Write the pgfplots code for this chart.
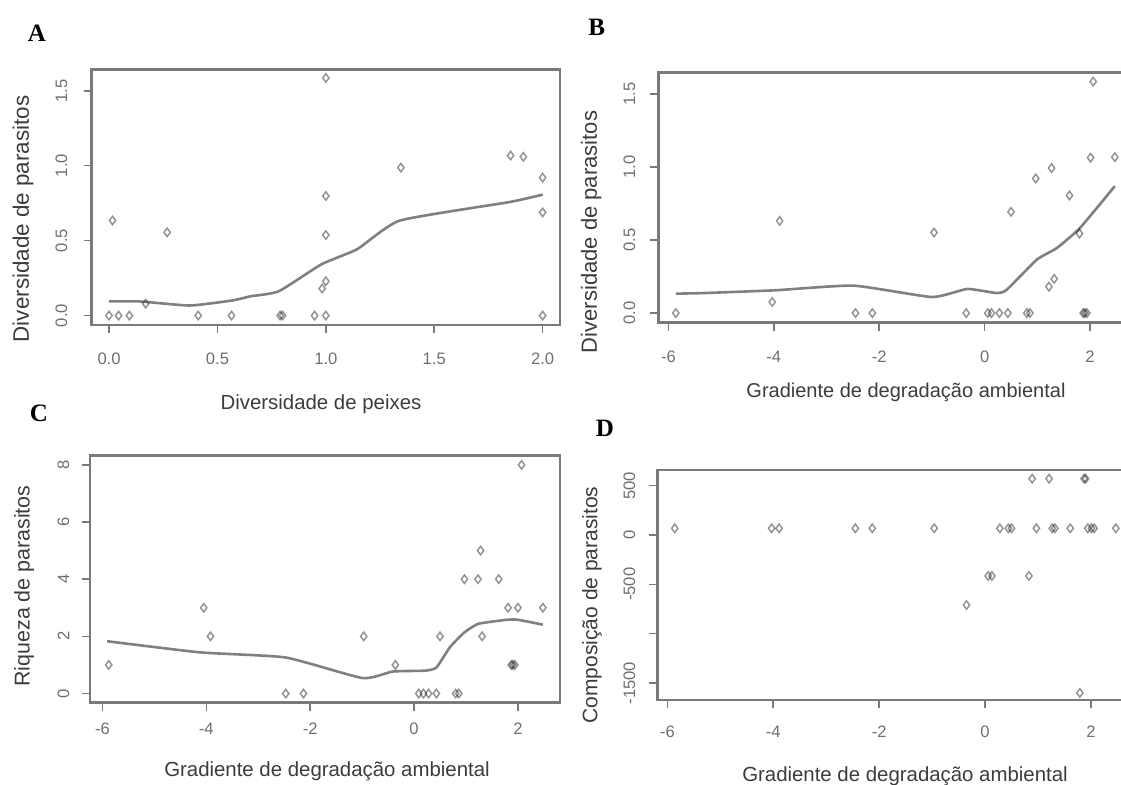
\documentclass[border=0pt]{standalone}
\usepackage{pgfplots}
\pgfplotsset{compat=1.18}
\usepackage{fontspec}
\setmainfont{Liberation Sans}
\newfontfamily\serifbold{Liberation Serif}
\definecolor{boxc}{HTML}{7A7A7A}
\definecolor{tickc}{HTML}{6F6F6F}
\definecolor{labc}{HTML}{3C3C3C}
\definecolor{linec}{HTML}{808080}
\pgfplotsset{
  rstyle/.style={
    scale only axis,
    anchor=south west,
    axis line style={boxc, line width=1.3pt},
    every tick/.style={boxc, line width=0.8pt},
    tick align=outside,
    major tick length=4pt,
    xtick pos=bottom, ytick pos=left,
    ticklabel style={font=\fontsize{8.3}{9}\selectfont, text=tickc, inner sep=0pt},
    yticklabel style={rotate=90, anchor=south},
    xticklabel style={anchor=north},
  },
  pts/.style={only marks, mark=diamond, mark size=2.1pt, mark options={draw=black, draw opacity=0.42, line width=0.75pt, fill=none}},
  lo/.style={no marks, color=linec, line width=1.3pt, smooth, tension=0.3},
}
\begin{document}
\begin{tikzpicture}[x=1pt,y=1pt]
\useasboundingbox (0pt,0pt) rectangle (560.5pt,392.5pt);
\begin{scope}
\clip (0pt,0pt) rectangle (560.5pt,392.5pt);
% ---------- A ----------
\begin{axis}[rstyle, at={(45.85pt,230pt)}, width=234.15pt, height=127.85pt,
  xmin=-0.08, xmax=2.08, ymin=-0.063, ymax=1.643,
  xtick={0,0.5,1,1.5,2}, xticklabels={0.0,0.5,1.0,1.5,2.0},
  ytick={0,0.5,1,1.5}, yticklabels={0.0,0.5,1.0,1.5},
  xticklabel shift=9.6pt, yticklabel shift=8pt]
\addplot[pts] table {
0 0
0.044 0
0.094 0
0.016 0.634
0.169 0.079
0.268 0.555
0.411 0
0.565 0
0.789 0
0.800 0
0.948 0
1.0 0
1.0 1.585
1.0 0.798
1.0 0.537
1.0 0.229
0.983 0.180
1.346 0.987
1.852 1.068
1.911 1.059
2.0 0.920
2.0 0.688
2.0 0
};
\addplot[lo] table {
0 0.094
0.143 0.094
0.373 0.067
0.57 0.101
0.652 0.128
0.783 0.162
0.98 0.342
1.145 0.443
1.342 0.634
1.85 0.758
2.0 0.807
};
\end{axis}
% ---------- B ----------
\begin{axis}[rstyle, at={(329.2pt,231.15pt)}, width=236.9pt, height=125pt,
  xmin=-6.19, xmax=2.80, ymin=-0.066, ymax=1.648,
  xtick={-6,-4,-2,0,2}, xticklabels={-6,-4,-2,0,2},
  ytick={0,0.5,1,1.5}, yticklabels={0.0,0.5,1.0,1.5},
  xticklabel shift=10.1pt, yticklabel shift=7.4pt]
\addplot[pts] table {
-5.86 0
-4.03 0.076
-3.89 0.632
-2.45 0
-2.13 0
-0.96 0.552
-0.35 0
0.06 0
0.13 0
0.28 0
0.44 0
0.80 0
0.86 0
1.87 0
1.90 0
1.94 0
2.06 1.587
2.01 1.065
2.47 1.069
1.27 0.994
0.97 0.923
1.61 0.806
0.50 0.694
1.80 0.545
1.32 0.234
1.22 0.181
};
\addplot[lo] table {
-5.86 0.133
-5.34 0.137
-3.98 0.156
-2.49 0.188
-1.00 0.110
-0.33 0.165
0.23 0.137
0.42 0.160
0.99 0.366
1.37 0.446
1.81 0.584
2.47 0.870
};
\end{axis}
% ---------- C ----------
\begin{axis}[rstyle, at={(45pt,41.15pt)}, width=235pt, height=123.5pt,
  xmin=-6.24, xmax=2.81, ymin=-0.32, ymax=8.32,
  xtick={-6,-4,-2,0,2}, xticklabels={-6,-4,-2,0,2},
  ytick={0,2,4,6,8}, yticklabels={0,2,4,6,8},
  xticklabel shift=5.75pt, yticklabel shift=6.1pt]
\addplot[pts] table {
-5.88 1
-4.05 3
-3.92 2
-2.47 0
-2.13 0
-0.97 2
-0.36 1
0.09 0
0.18 0
0.28 0
0.43 0
0.50 2
0.80 0
0.86 0
0.97 4
1.23 4
1.28 5
1.31 2
1.63 4
1.81 3
2.00 3
2.07 8
2.48 3
1.87 1
1.90 1
1.94 1
};
\addplot[lo] table {
-5.91 1.83
-4.12 1.44
-2.47 1.26
-0.99 0.54
-0.41 0.77
0.21 0.80
0.43 0.91
0.69 1.62
0.97 2.14
1.24 2.44
1.79 2.58
2.00 2.58
2.48 2.41
};
\end{axis}
% ---------- D ----------
\begin{axis}[rstyle, at={(328.65pt,42.5pt)}, width=238pt, height=115pt,
  xmin=-6.19, xmax=2.80, ymin=-1672, ymax=659,
  xtick={-6,-4,-2,0,2}, xticklabels={-6,-4,-2,0,2},
  ytick={500,0,-500,-1000,-1500}, yticklabels={500,0,-500,,-1500},
  xticklabel shift=8.95pt, yticklabel shift=6.85pt]
\addplot[pts] table {
-5.86 68
-4.03 68
-3.89 68
-2.45 68
-2.13 68
-0.96 68
-0.35 -710
0.06 -415
0.13 -415
0.28 68
0.44 68
0.50 68
0.83 -415
0.89 571
0.97 68
1.21 571
1.27 68
1.32 68
1.61 68
1.79 -1600
1.87 571
1.90 571
1.94 68
2.01 68
2.06 68
2.47 68
};
\end{axis}
% ---------- text ----------
\begin{scope}[every node/.style={inner sep=0pt}]
\node[font=\serifbold\bfseries\fontsize{12.5}{14}\selectfont] at (18.5pt,376pt) {A};
\node[font=\serifbold\bfseries\fontsize{12.5}{14}\selectfont] at (298.3pt,379pt) {B};
\node[font=\serifbold\bfseries\fontsize{12.5}{14}\selectfont] at (19.5pt,186pt) {C};
\node[font=\serifbold\bfseries\fontsize{12.5}{14}\selectfont] at (302.5pt,178.5pt) {D};
\node[text=labc, font=\fontsize{11.2}{13}\selectfont, rotate=90] at (11.5pt,283pt) {Diversidade de parasitos};
\node[text=labc, font=\fontsize{10.2}{12}\selectfont] at (160.5pt,190.5pt) {Diversidade de peixes};
\node[text=labc, font=\fontsize{11}{13}\selectfont, rotate=90] at (295.65pt,276.5pt) {Diversidade de parasitos};
\node[text=labc, font=\fontsize{10}{12}\selectfont] at (453pt,196.5pt) {Gradiente de degradação ambiental};
\node[text=labc, font=\fontsize{10.7}{13}\selectfont, rotate=90] at (12pt,99.5pt) {Riqueza de parasitos};
\node[text=labc, font=\fontsize{10.2}{12}\selectfont] at (163.5pt,7pt) {Gradiente de degradação ambiental};
\node[text=labc, font=\fontsize{10.5}{13}\selectfont, rotate=90] at (296pt,90pt) {Composição de parasitos};
\node[text=labc, font=\fontsize{10.2}{12}\selectfont] at (452.5pt,4.5pt) {Gradiente de degradação ambiental};
\end{scope}
\end{scope}
\end{tikzpicture}
\end{document}
